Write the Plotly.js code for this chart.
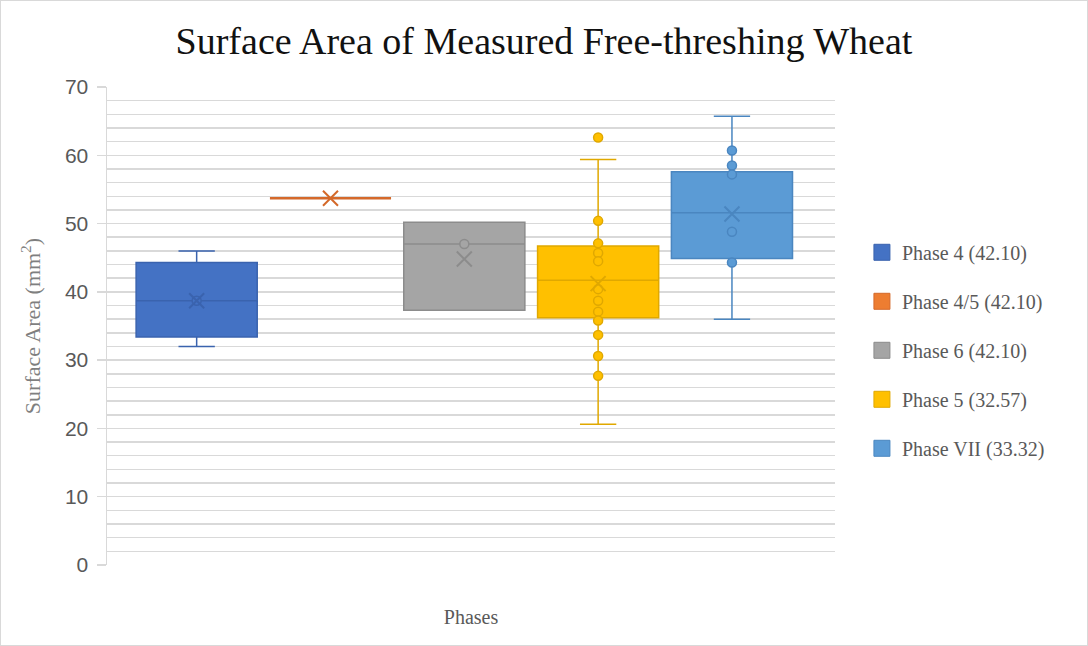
<!DOCTYPE html>
<html>
<head>
<meta charset="utf-8">
<script src="https://cdn.plot.ly/plotly-3.0.1.min.js"></script>
<style>
  html, body { margin: 0; padding: 0; background: #fff; }
  #chart { width: 1086px; height: 644px; border: 1px solid #d9d9d9; }
</style>
</head>
<body>
<div id="chart"></div>
<script>
// ---- data ----
const phases = ["Phase 4 (42.10)", "Phase 4/5 (42.10)", "Phase 6 (42.10)", "Phase 5 (32.57)", "Phase VII (33.32)"];
const lowerWhisker = [32.0, 53.7, 37.3, 20.6, 36.0];
const q1Values     = [33.4, 53.7, 37.3, 36.2, 44.9];
const medianValues = [38.7, 53.7, 47.0, 41.7, 51.6];
const q3Values     = [44.3, 53.7, 50.2, 46.7, 57.6];
const upperWhisker = [46.0, 53.7, 50.2, 59.4, 65.7];
const meanValues   = [38.7, 53.7, 44.8, 41.2, 51.4];
const phase4Points  = [38.7];
const phase45Points = [];
const phase6Points  = [47.0];
const phase5Points  = [62.6, 50.4, 47.1, 45.7, 44.5, 40.4, 38.7, 37.1, 35.8, 33.7, 30.6, 27.7];
const phaseVIIPoints = [60.7, 58.5, 57.2, 48.8, 44.3];
const pointSets = [phase4Points, phase45Points, phase6Points, phase5Points, phaseVIIPoints];

// ---- styles ----
const fillColors = ['#4472C4', '#ED7D31', '#A5A5A5', '#FFC000', '#5B9BD5'];
const lineColors = ['#3A63AE', '#D4692A', '#8C8C8C', '#E0A800', '#4A86C0'];
const lineWidths = [1.5, 2.5, 1.5, 1.5, 1.5];
const serif = '"Liberation Serif", "Times New Roman", serif';

const traces = [];
phases.forEach((name, i) => {
  traces.push({
    type: 'box', name: name, x: [i],
    q1: [q1Values[i]], median: [medianValues[i]], q3: [q3Values[i]],
    lowerfence: [lowerWhisker[i]], upperfence: [upperWhisker[i]],
    width: 0.905, whiskerwidth: 0.3,
    fillcolor: fillColors[i],
    line: { color: lineColors[i], width: lineWidths[i] },
    boxpoints: false, showlegend: false, hoverinfo: 'skip'
  });
});
phases.forEach((name, i) => {
  const pts = pointSets[i];
  if (pts.length) {
    traces.push({
      type: 'scatter', mode: 'markers', x: pts.map(() => i), y: pts,
      marker: { symbol: 'circle', size: 9, color: fillColors[i], line: { color: lineColors[i], width: 1.5 } },
      showlegend: false, hoverinfo: 'skip'
    });
  }
  traces.push({
    type: 'scatter', mode: 'markers', x: [i], y: [meanValues[i]],
    marker: { symbol: 'x-thin-open', size: 15, color: lineColors[i], line: { color: lineColors[i], width: 2 } },
    showlegend: false, hoverinfo: 'skip'
  });
});
phases.forEach((name, i) => {
  traces.push({
    type: 'scatter', mode: 'markers', name: name, x: [null], y: [null],
    legendgroup: 'g' + i,
    marker: { symbol: 'square', size: 16, color: fillColors[i], line: { color: lineColors[i], width: 1 } },
    hoverinfo: 'skip'
  });
});

const layout = {
  width: 1086, height: 644,
  margin: { l: 106, r: 252, t: 86, b: 80 },
  paper_bgcolor: '#ffffff', plot_bgcolor: '#ffffff',
  title: {
    text: 'Surface Area of Measured Free-threshing Wheat',
    font: { family: serif, size: 38, color: '#111111' },
    x: 0.5, xref: 'container', y: 0.938, yref: 'container', yanchor: 'middle'
  },
  xaxis: {
    range: [-0.67, 4.77], showgrid: false, zeroline: false, showline: false,
    showticklabels: false, ticks: '', fixedrange: true,
    title: { text: 'Phases', font: { family: serif, size: 20, color: '#595959' }, standoff: 44 }
  },
  yaxis: {
    range: [0, 70], dtick: 10, tick0: 0,
    showgrid: true, gridcolor: '#d9d9d9', gridwidth: 1.5,
    minor: { dtick: 2, showgrid: true, gridcolor: '#d9d9d9', gridwidth: 1.5 },
    zeroline: false, showline: true, linecolor: '#d9d9d9', linewidth: 1.5,
    ticks: 'outside', ticklen: 9, tickcolor: '#d9d9d9', tickwidth: 1.5,
    ticklabelstandoff: 4,
    tickfont: { family: '"Liberation Sans", Arial, sans-serif', size: 21, color: '#595959' },
    title: { text: 'Surface Area (mm<sup>2</sup>)', font: { family: serif, size: 22, color: '#7f7f7f' }, standoff: 18 }
  },
  legend: {
    x: 1.037, xanchor: 'left', y: 0.695, yanchor: 'top',
    font: { family: serif, size: 20, color: '#595959' },
    traceorder: 'grouped', tracegroupgap: 20, bgcolor: 'rgba(0,0,0,0)'
  },
  showlegend: true
};

Plotly.newPlot('chart', traces, layout, { staticPlot: true });
</script>
</body>
</html>
